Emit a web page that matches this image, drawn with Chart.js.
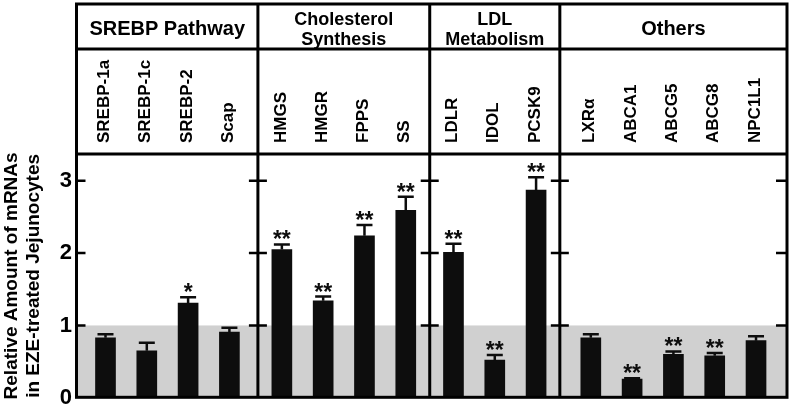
<!DOCTYPE html>
<html>
<head>
<meta charset="utf-8">
<script src="https://cdn.jsdelivr.net/npm/chart.js@4"></script>
<style>
  body { margin: 0; background: #fff; }
  #wrap { width: 791px; height: 416px; }
</style>
</head>
<body>
<div id="wrap"><canvas id="chart" width="791" height="416"></canvas></div>
<script>
// --- data ---
const groupNames = [["SREBP Pathway"], ["Cholesterol", "Synthesis"], ["LDL", "Metabolism"], ["Others"]];
const genes = [
    ["SREBP-1a", "SREBP-1c", "SREBP-2", "Scap"],
    ["HMGS", "HMGR", "FPPS", "SS"],
    ["LDLR", "IDOL", "PCSK9"],
    ["LXRα", "ABCA1", "ABCG5", "ABCG8", "NPC1L1"]
];
const values = [
    [0.83, 0.65, 1.31, 0.91],
    [2.05, 1.34, 2.24, 2.59],
    [2.01, 0.52, 2.87],
    [0.83, 0.26, 0.60, 0.58, 0.79]
];
const errors = [
    [0.05, 0.11, 0.08, 0.06],
    [0.07, 0.06, 0.15, 0.19],
    [0.12, 0.07, 0.18],
    [0.05, 0.01, 0.04, 0.04, 0.06]
];
const stars = [
    ["", "", "*", ""],
    ["**", "**", "**", "**"],
    ["**", "**", "**"],
    ["", "**", "**", "**", ""]
];
const yTicks = [0, 1, 2, 3];
const yTitle = ["Relative Amount of mRNAs", "in EZE-treated Jejunocytes"];

// --- layout in category units: each panel is n bars plus some side room ---
const panelRoom = [0.38, 0.16, 0.15, 0.5];
const panelStart = [];
const points = [];
let pos = 0;
genes.forEach((list, g) => {
    panelStart.push(pos);
    list.forEach((name, i) => {
        points.push({ x: pos + panelRoom[g] / 2 + 0.5 + i, y: values[g][i], err: errors[g][i], star: stars[g][i], name: name });
    });
    pos += list.length + panelRoom[g];
});
const xMax = pos;

const FONT = "'Liberation Sans', Arial, sans-serif";
const INK = "#0d0d0d";

const panelPlugin = {
    id: "panels",
    beforeDatasetsDraw(chart) {
        const { ctx, chartArea } = chart;
        const y = chart.scales.y;
        ctx.save();
        ctx.fillStyle = "#d0d0d0";
        const top = y.getPixelForValue(1);
        ctx.fillRect(chartArea.left, top, chartArea.right - chartArea.left, y.getPixelForValue(0) - top);
        ctx.restore();
    },
    afterDatasetsDraw(chart) {
        const { ctx, chartArea } = chart;
        const x = chart.scales.x;
        const y = chart.scales.y;
        const L = chartArea.left - 0.5, R = chartArea.right, B = chartArea.bottom - 0.5, T = 4;
        const headerLine = 49, geneLine = chartArea.top;

        ctx.save();
        // error bars and stars
        points.forEach(p => {
            const px = x.getPixelForValue(p.x);
            const py = y.getPixelForValue(p.y);
            const pe = y.getPixelForValue(p.y + p.err);
            ctx.strokeStyle = INK;
            ctx.lineWidth = 2.5;
            ctx.beginPath();
            ctx.moveTo(px, py);
            ctx.lineTo(px, pe);
            ctx.moveTo(px - 8, pe);
            ctx.lineTo(px + 8, pe);
            ctx.stroke();
            if (p.star) {
                ctx.fillStyle = INK;
                ctx.font = "bold 23px " + FONT;
                ctx.textAlign = "center";
                ctx.textBaseline = "alphabetic";
                ctx.fillText(p.star, px, pe + 3);
            }
        });

        // frame and panel lines
        ctx.strokeStyle = "#000";
        ctx.lineWidth = 3;
        ctx.strokeRect(L, T, R - L, B - T);
        ctx.beginPath();
        ctx.moveTo(L, headerLine); ctx.lineTo(R, headerLine);
        ctx.moveTo(L, geneLine); ctx.lineTo(R, geneLine);
        const seps = panelStart.slice(1).map(v => x.getPixelForValue(v));
        seps.forEach(sx => { ctx.moveTo(sx, T); ctx.lineTo(sx, B); });
        ctx.stroke();

        // tick marks inside each panel
        ctx.lineWidth = 2.5;
        ctx.beginPath();
        yTicks.slice(1).forEach(v => {
            const ty = y.getPixelForValue(v);
            ctx.moveTo(L, ty); ctx.lineTo(L + 9, ty);
            seps.forEach(sx => { ctx.moveTo(sx - 9, ty); ctx.lineTo(sx + 9, ty); });
            ctx.moveTo(R - 11, ty); ctx.lineTo(R, ty);
        });
        ctx.stroke();

        // panel headers
        ctx.fillStyle = "#000";
        ctx.textAlign = "center";
        ctx.textBaseline = "alphabetic";
        const bounds = [L].concat(seps, [R]);
        groupNames.forEach((lines, g) => {
            const cx = (bounds[g] + bounds[g + 1]) / 2;
            if (lines.length === 1) {
                ctx.font = "bold 20px " + FONT;
                ctx.fillText(lines[0], cx, 35);
            } else {
                ctx.font = "bold 18px " + FONT;
                ctx.fillText(lines[0], cx, 25);
                ctx.fillText(lines[1], cx, 45);
            }
        });

        // gene names, rotated
        ctx.font = "bold 17px " + FONT;
        ctx.textAlign = "left";
        ctx.textBaseline = "middle";
        points.forEach(p => {
            ctx.save();
            ctx.translate(x.getPixelForValue(p.x) - 1, 143);
            ctx.rotate(-Math.PI / 2);
            ctx.fillText(p.name, 0, 0);
            ctx.restore();
        });
        ctx.restore();
    }
};

new Chart(document.getElementById("chart"), {
    type: "bar",
    data: {
        datasets: [{
            data: points,
            backgroundColor: INK,
            barThickness: 20,
            borderWidth: 0
        }]
    },
    options: {
        responsive: false,
        animation: false,
        devicePixelRatio: 1,
        layout: { padding: { top: 154, right: 4, bottom: 9, left: 0 } },
        plugins: { legend: { display: false }, tooltip: { enabled: false } },
        scales: {
            x: { type: "linear", min: 0, max: xMax, offset: false, display: false },
            y: {
                min: 0,
                max: 3.37,
                afterFit: (scale) => { scale.width = 77; },
                grid: { display: false, drawTicks: false },
                border: { display: false },
                ticks: {
                    stepSize: 1,
                    includeBounds: false,
                    padding: 5,
                    color: "#000",
                    font: { family: FONT, size: 22, weight: "bold" }
                },
                title: {
                    display: true,
                    text: yTitle,
                    color: "#000",
                    padding: { top: 0, bottom: 0 },
                    font: { family: FONT, size: 19, weight: "bold", lineHeight: 1.2 }
                }
            }
        }
    },
    plugins: [panelPlugin]
});
</script>
</body>
</html>
